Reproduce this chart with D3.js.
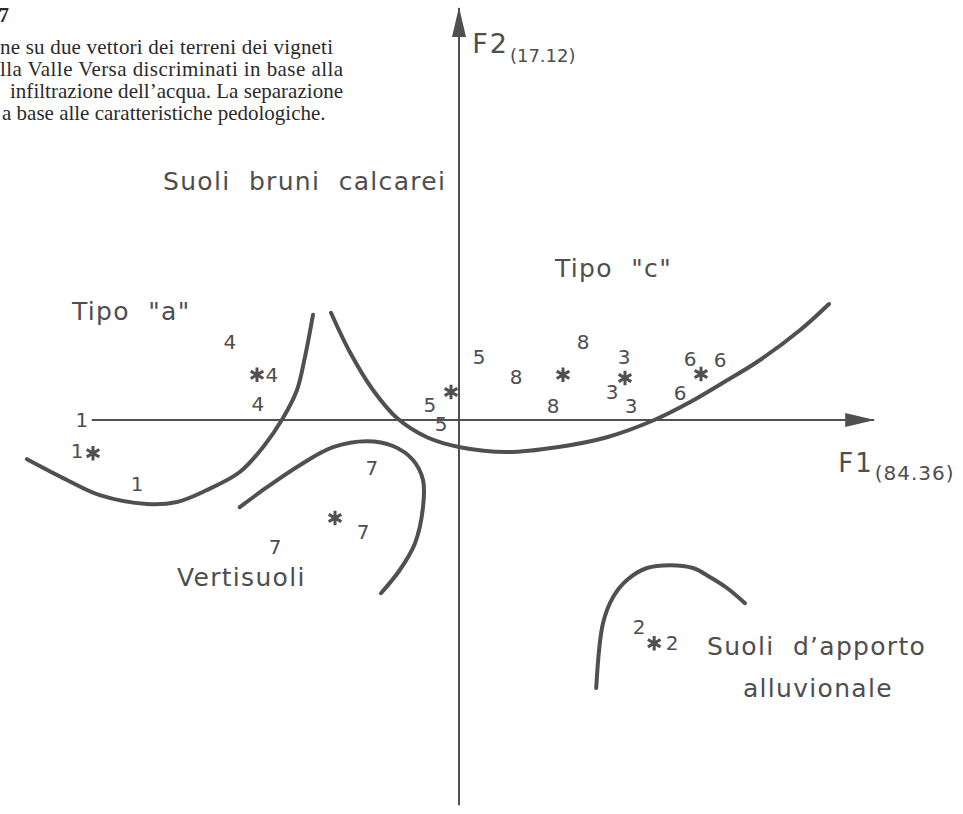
<!DOCTYPE html>
<html>
<head>
<meta charset="utf-8">
<script src="https://cdn.jsdelivr.net/npm/d3@7"></script>
<style>
  html, body { margin: 0; padding: 0; background: #fff; }
  svg { display: block; }
  .lbl { font-family: "DejaVu Sans", "Liberation Sans", sans-serif; fill: #4e4e4e; white-space: pre; }
  .cap { font-family: "Liberation Serif", "Times New Roman", serif; fill: #2a2a2a; }
</style>
</head>
<body>
<svg id="chart" width="963" height="814"></svg>
<script>
// Individual vineyard soils: group number and scores on the two discriminant functions
const obsGroup = ["1", "1", "1", "4", "4", "4", "5", "5", "5", "7", "7", "7",
                  "8", "8", "8", "3", "3", "3", "6", "6", "6", "2", "2"];
const obsF1 = [-9.43, -9.55, -8.05, -5.73, -4.68, -5.03, -0.73, -0.45, 0.50, -2.18, -2.40, -4.60,
               1.43, 3.10, 2.35, 4.13, 3.83, 4.30, 5.78, 6.53, 5.53, 4.50, 5.33];
const obsF2 = [0.00, -0.78, -1.60, 1.95, 1.13, 0.40, 0.38, -0.10, 1.58, -1.20, -2.80, -3.18,
               1.08, 1.95, 0.35, 1.58, 0.70, 0.35, 1.53, 1.50, 0.68, -5.18, -5.58];

// Group centroids (asterisks)
const centroidGroup = ["1", "4", "5", "7", "8", "3", "6", "2"];
const centroidF1 = [-9.15, -5.05, -0.20, -3.10, 2.60, 4.15, 6.05, 4.88];
const centroidF2 = [-0.83, 1.13, 0.70, -2.45, 1.13, 1.05, 1.15, -5.58];

// Boundaries between soil classes, [F1, F2]
const boundaryTipoA = [[-10.80, -0.98], [-9.80, -1.50], [-8.98, -1.88], [-7.80, -2.10], [-7.05, -2.05],
                       [-6.30, -1.75], [-5.48, -1.30], [-4.90, -0.68], [-4.40, 0.05], [-4.05, 0.75],
                       [-3.85, 1.58], [-3.65, 2.63]];
const boundaryTipoC = [[-3.20, 2.68], [-2.73, 1.70], [-2.15, 0.75], [-1.55, 0.05], [-0.80, -0.43],
                       [0.03, -0.68], [1.20, -0.80], [2.45, -0.68], [3.70, -0.43], [4.88, 0.00],
                       [5.78, 0.45], [6.63, 0.95], [7.45, 1.45], [8.53, 2.25], [9.25, 2.90]];
const boundaryVerti = [[-5.48, -2.18], [-4.80, -1.68], [-3.98, -1.13], [-3.15, -0.68], [-2.30, -0.53],
                       [-1.65, -0.65], [-1.15, -1.00], [-0.90, -1.50], [-0.90, -2.18], [-1.10, -3.08],
                       [-1.48, -3.75], [-1.95, -4.33]];
const boundaryAlluv = [[3.43, -6.70], [3.60, -5.08], [3.85, -4.43], [4.20, -4.00], [4.70, -3.70],
                       [5.28, -3.63], [5.85, -3.70], [6.28, -3.93], [6.70, -4.20], [7.15, -4.58]];

// Axis labels with explained variance (%)
const axisNames = ["F1", "F2"];
const axisVariance = ["(84.36)", "(17.12)"];

// Caption lines
const captionLines = [
  "ne su due vettori dei terreni dei vigneti",
  "lla Valle Versa discriminati in base alla",
  "infiltrazione dell\u2019acqua. La separazione",
  "a base alle caratteristiche pedologiche."
];

const svg = d3.select("#chart");
const ink = "#505050";

const x = d3.scaleLinear().domain([-10, 10]).range([59, 859]);
const y = d3.scaleLinear().domain([-10, 10]).range([820, 20]);

// Caption
svg.append("text").attr("class", "cap")
  .attr("x", 9).attr("y", 22).attr("text-anchor", "end")
  .attr("font-size", 21).attr("font-weight", "bold").text("7");
const capX = [0, 0, 10, 2];
const capLen = [333, 343, 333, null];
captionLines.forEach((t, i) => {
  const el = svg.append("text").attr("class", "cap")
    .attr("x", capX[i]).attr("y", 54 + i * 22)
    .attr("font-size", 21).text(t);
  if (capLen[i]) el.attr("textLength", capLen[i]).attr("lengthAdjust", "spacing");
});

// Arrowheads
const defs = svg.append("defs");
defs.append("marker").attr("id", "arrow")
  .attr("viewBox", "0 0 30 14").attr("refX", 29).attr("refY", 7)
  .attr("markerWidth", 30).attr("markerHeight", 14)
  .attr("markerUnits", "userSpaceOnUse").attr("orient", "auto")
  .append("path").attr("d", "M0,0 L30,7 L0,14 Z").attr("fill", ink);

// Axes
svg.append("line")
  .attr("x1", x(-9.18)).attr("y1", y(0)).attr("x2", x(10.38)).attr("y2", y(0))
  .attr("stroke", ink).attr("stroke-width", 2).attr("marker-end", "url(#arrow)");
svg.append("line")
  .attr("x1", x(0)).attr("y1", y(-9.63)).attr("x2", x(0)).attr("y2", y(10.3))
  .attr("stroke", ink).attr("stroke-width", 2).attr("marker-end", "url(#arrow)");

// Axis titles with subscripted variance
function axisTitle(px, py, i, big, small, drop, spacing) {
  const t = svg.append("text").attr("class", "lbl").attr("x", px).attr("y", py).attr("font-size", big);
  t.append("tspan").attr("letter-spacing", 2).text(axisNames[i]);
  t.append("tspan").attr("font-size", small).attr("dy", drop).attr("dx", 1)
    .attr("letter-spacing", spacing).text(axisVariance[i]);
}
axisTitle(x(9.48), y(-1.3), 0, 26, 20, 8, 1);
axisTitle(x(0.33), y(9.18), 1, 27, 18, 9, 0);

// Boundaries
const line = d3.line().x(d => x(d[0])).y(d => y(d[1])).curve(d3.curveCatmullRom.alpha(0.5));
[boundaryTipoA, boundaryTipoC, boundaryVerti, boundaryAlluv].forEach(b => {
  svg.append("path").attr("d", line(b))
    .attr("fill", "none").attr("stroke", ink).attr("stroke-width", 4).attr("stroke-linecap", "round");
});

// Observations
svg.append("g").selectAll("text").data(obsGroup).join("text")
  .attr("class", "lbl")
  .attr("x", (d, i) => x(obsF1[i])).attr("y", (d, i) => y(obsF2[i]))
  .attr("text-anchor", "middle").attr("dy", "0.36em")
  .attr("font-size", 20).text(d => d);

// Centroids
const star = d3.symbol().type(d3.symbolAsterisk).size(150);
svg.append("g").selectAll("path").data(centroidGroup).join("path")
  .attr("transform", (d, i) => `translate(${x(centroidF1[i])},${y(centroidF2[i])})`)
  .attr("d", star).attr("fill", "none").attr("stroke", ink).attr("stroke-width", 3);

// Region names
const regions = [
  { t: "Suoli  bruni  calcarei", px: 163, py: 190 },
  { t: "Tipo  \"c\"", px: 555, py: 277 },
  { t: "Tipo  \"a\"", px: 72, py: 320 },
  { t: "Vertisuoli", px: 177, py: 586 },
  { t: "Suoli  d\u2019apporto", px: 707, py: 655 },
  { t: "alluvionale", px: 743, py: 697 }
];
regions.forEach(r => {
  svg.append("text").attr("class", "lbl").attr("x", r.px).attr("y", r.py)
    .attr("font-size", 25).attr("letter-spacing", 1.3).text(r.t);
});
</script>
</body>
</html>
